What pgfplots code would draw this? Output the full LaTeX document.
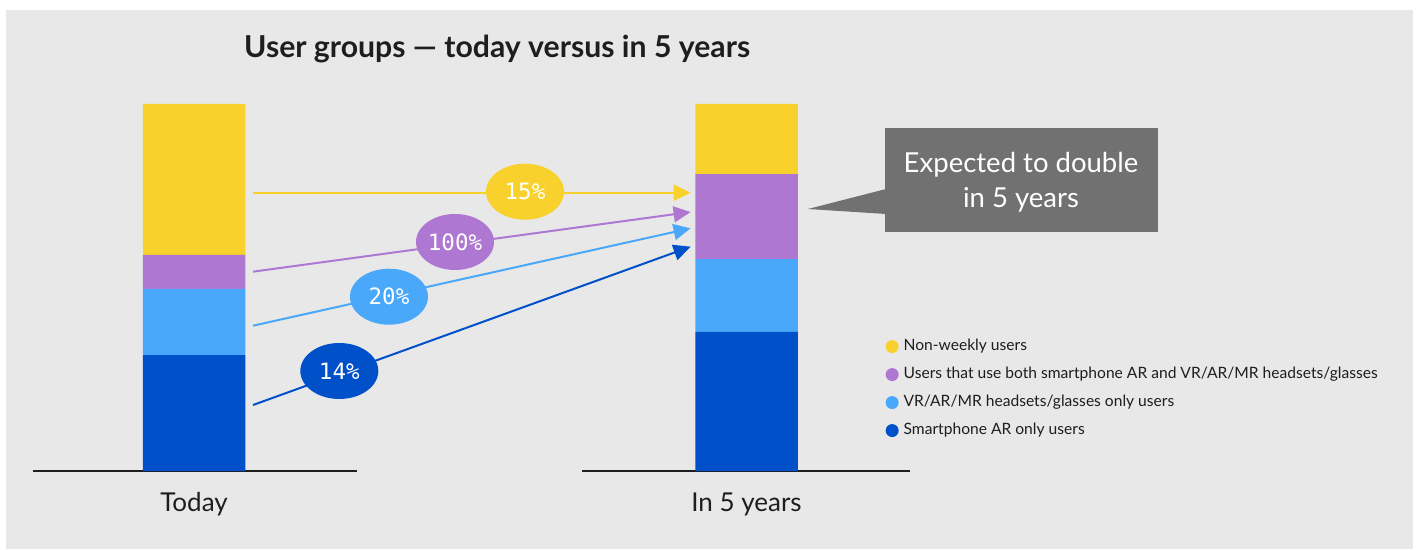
\documentclass[border=0pt]{standalone}
\usepackage{fontspec}
\setmainfont{Lato}
\newfontfamily\monofont{DejaVu Sans Mono}
\usepackage{pgfplots}
\pgfplotsset{compat=1.18}
\usetikzlibrary{arrows.meta,shapes.geometric}
\definecolor{bggray}{HTML}{E8E8E8}
\definecolor{cyel}{HTML}{F9D12C}
\definecolor{cpur}{HTML}{AE78D2}
\definecolor{clbl}{HTML}{4AA8FA}
\definecolor{cdbl}{HTML}{0050CA}
\definecolor{ccall}{HTML}{717171}
\definecolor{ctext}{HTML}{1E1E1E}
\begin{document}
\begin{tikzpicture}[x=1pt,y=1pt]
\useasboundingbox (0,0) rectangle (1416,549);
\fill[white] (0,0) rectangle (1416,549);
\fill[bggray] (6,0) rectangle (1413,539);
% title
\node[anchor=base west, inner sep=0, text=ctext, font=\fontsize{30.2}{34}\selectfont\bfseries] at (244,491) {User groups — today versus in 5 years};
% callout
\fill[ccall] (885,317) rectangle (1158,421);
\fill[ccall] (886,360) -- (808,340) -- (886,335) -- cycle;
\node[align=center, text=white, inner sep=0, font=\fontsize{27.5}{35}\selectfont] at (1021,367) {Expected to double\\in 5 years};
\begin{axis}[
  at={(33pt,78pt)}, anchor=south west,
  scale only axis, width=877pt, height=367pt,
  xmin=-0.2914, xmax=1.2959, ymin=0, ymax=100,
  ybar stacked, bar width=102.5pt,
  axis line style={draw=none},
  ytick=\empty, xtick={0,1}, xticklabels={Today,In 5 years},
  major tick length=0pt,
  xticklabel style={font=\fontsize{26}{30}\selectfont, text=ctext, yshift=-18pt},
  clip=false,
  reverse legend,
  legend cell align=left,
  legend style={at={(axis description cs:0.972,0.360)}, anchor=north west,
    draw=none, fill=none, font=\fontsize{15.6}{18}\selectfont, text=ctext,
    row sep=13pt, column sep=5pt, inner sep=0pt,
    nodes={inner sep=0pt, text height=11pt, text depth=4pt}},
  dotleg/.style={legend image code/.code={\fill[#1] (0pt,0pt) circle (6.5pt);}},
]
\addplot[fill=cdbl, draw=none, dotleg=cdbl] coordinates {(0,31.6) (1,37.9)};
\addlegendentry{Smartphone AR only users}
\addplot[fill=clbl, draw=none, dotleg=clbl] coordinates {(0,18.0) (1,19.8)};
\addlegendentry{VR/AR/MR headsets/glasses only users}
\addplot[fill=cpur, draw=none, dotleg=cpur] coordinates {(0,9.3) (1,23.2)};
\addlegendentry{Users that use both smartphone AR and VR/AR/MR headsets/glasses}
\addplot[fill=cyel, draw=none, dotleg=cyel] coordinates {(0,41.1) (1,19.1)};
\addlegendentry{Non-weekly users}
% baselines
\draw[ctext, line width=1.6pt] (axis cs:-0.2914,0) -- (axis cs:0.2950,0);
\draw[ctext, line width=1.6pt] (axis cs:0.7023,0) -- (axis cs:1.2959,0);
% arrows
\draw[cyel, line width=2.4pt, -{Triangle[length=17pt,width=16pt]}] (axis cs:0.1068,75.83) -- (axis cs:0.8988,75.83);
\draw[cpur, line width=2pt, -{Triangle[length=17pt,width=16pt]}] (axis cs:0.1068,54.31) -- (axis cs:0.8988,70.57);
\draw[clbl, line width=2pt, -{Triangle[length=17pt,width=16pt]}] (axis cs:0.1068,39.59) -- (axis cs:0.8988,66.13);
\draw[cdbl, line width=2pt, -{Triangle[length=17pt,width=16pt]}] (axis cs:0.1068,17.98) -- (axis cs:0.8988,61.12);
% ellipse anchors
\coordinate (e1) at (axis cs:0.5991,76.10);
\coordinate (e2) at (axis cs:0.4724,62.40);
\coordinate (e3) at (axis cs:0.3529,47.49);
\coordinate (e4) at (axis cs:0.2630,27.25);
\end{axis}
\tikzset{pct/.style={ellipse, fill=#1, minimum width=78pt, minimum height=56pt, inner sep=0, text=white, font=\monofont\fontsize{22.5}{26}\selectfont}}
\node[pct=cyel] at (e1) {15\%};
\node[pct=cpur] at (e2) {100\%};
\node[pct=clbl] at (e3) {20\%};
\node[pct=cdbl] at (e4) {14\%};
\end{tikzpicture}
\end{document}
